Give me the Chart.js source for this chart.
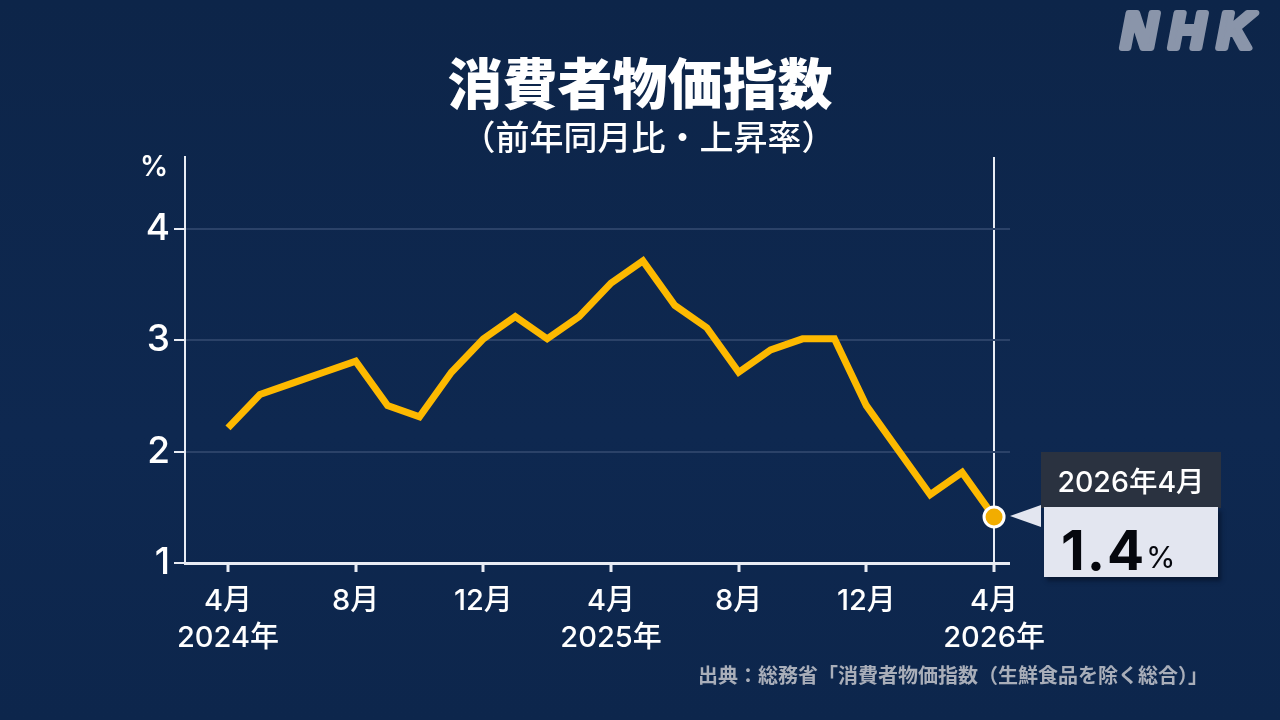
<!DOCTYPE html>
<html lang="ja"><head><meta charset="utf-8">
<script src="https://cdn.jsdelivr.net/npm/chart.js@4"></script>
<style>
html,body{margin:0;padding:0;width:1280px;height:720px;overflow:hidden;background:#0d264d;font-family:Inter,"Noto Sans CJK JP",sans-serif;color:#fff}
#bg{position:absolute;inset:0;background:linear-gradient(180deg,#0d2549 0%,#0e2850 60%,#0d264c 100%)}
canvas{position:absolute;left:0;top:0}
.t{position:absolute;white-space:nowrap;line-height:1}
#title{left:0;width:1280px;text-align:center;top:53px;font-family:"Noto Sans CJK JP";font-size:55px;font-weight:900}
#sub{left:0;width:1297px;text-align:center;top:119px;font-family:"Noto Sans CJK JP";font-size:34px;font-weight:500}
#unit{left:140px;top:149px;font:600 28px Inter,sans-serif}
#src{left:698px;top:665px;font-family:"Noto Sans CJK JP";font-size:20px;font-weight:700;color:#a9aeb9}
#logo{position:absolute;left:1100px;top:0;width:180px;height:70px;overflow:visible}
#boxTop{position:absolute;left:1041px;top:452px;width:180px;height:56px;background:#2a3240}
#boxVal{position:absolute;left:1044px;top:507px;width:174px;height:70px;background:#e3e6f0;box-shadow:3px 4px 4px rgba(5,15,35,.6)}
#arrow{position:absolute;left:1010px;top:505px;width:0;height:0;border-top:11.5px solid transparent;border-bottom:11.5px solid transparent;border-right:31px solid #e3e6f0}
#date{left:1041px;width:180px;text-align:center;top:468px;font-size:28.5px;font-weight:500}
#val{left:1061px;top:517px;font:700 55px Inter,sans-serif;color:#05070d;letter-spacing:2px}
#pct{left:1146px;top:539px;font:400 30px Inter,sans-serif;color:#05070d}
</style></head><body>
<div id="bg"></div>
<canvas id="c" width="1280" height="720"></canvas>
<div class="t" id="title"></div>
<div class="t" id="sub"></div>
<div class="t" id="unit">%</div>
<svg id="logo" viewBox="0 0 180 70"><text x="21" y="48" font-family="Liberation Sans" font-style="italic" font-weight="700" font-size="50" letter-spacing="12" fill="#8a95aa" stroke="#8a95aa" stroke-width="6" stroke-linejoin="round">NHK</text></svg>
<div id="arrow"></div><div id="boxTop"></div><div id="boxVal"></div>
<div class="t" id="date"></div>
<div class="t" id="val"></div>
<div class="t" id="pct">%</div>
<div class="t" id="src"></div>
<script>
const titleText = "消費者物価指数";
const subtitleText = "（前年同月比・上昇率）";
const sourceText = "出典：総務省「消費者物価指数（生鮮食品を除く総合）」";
const calloutDate = "2026年4月";
const calloutValue = "1.4";
const monthIndex = [0,1,2,3,4,5,6,7,8,9,10,11,12,13,14,15,16,17,18,19,20,21,22,23,24];
const cpiValues = [2.2,2.5,2.6,2.7,2.8,2.4,2.3,2.7,3.0,3.2,3.0,3.2,3.5,3.7,3.3,3.1,2.7,2.9,3.0,3.0,2.4,2.0,1.6,1.8,1.4];
const xTickIndex = [0,4,8,12,16,20,24];
const xTickMonths = ["4月","8月","12月","4月","8月","12月","4月"];
const xTickYears = ["2024年","","","2025年","","","2026年"];
const yTicks = [1,2,3,4];

document.getElementById('title').textContent = titleText;
document.getElementById('sub').textContent = subtitleText;
document.getElementById('src').textContent = sourceText;
document.getElementById('date').textContent = calloutDate;
document.getElementById('val').textContent = calloutValue;

const lastIdx = cpiValues.length - 1;
new Chart(document.getElementById('c'), {
  type: 'line',
  data: { datasets: [{
    data: monthIndex.map((m,i)=>({x:m,y:cpiValues[i]})),
    borderColor:'#fdb900', borderWidth:7, borderJoinStyle:'miter', borderCapStyle:'butt',
    tension:0,
    pointRadius: c=>c.dataIndex===lastIdx?10:0,
    pointBackgroundColor:'#f2ad00', pointBorderColor:'#ffffff', pointBorderWidth:3,
    clip:false
  }]},
  options:{
    responsive:false, animation:false, devicePixelRatio:1,
    plugins:{legend:{display:false},tooltip:{enabled:false}},
    scales:{
      x:{ type:'linear', min:-1.347, max:24.5,
        afterBuildTicks:s=>{s.ticks=xTickIndex.map(v=>({value:v}));},
        afterFit:s=>{s.height=720-563;},
        border:{color:'#e8ecf4',width:3},
        grid:{ drawOnChartArea:true, tickLength:9, lineWidth:c=>c.tick&&c.tick.value===24?2:0,
          color:'#e8ecf4', tickColor:'#e8ecf4', tickWidth:3 },
        ticks:{ autoSkip:false, maxRotation:0, color:'#fff', padding:11, font:{family:'Inter,"Noto Sans CJK JP"',size:29,weight:500,lineHeight:1.28},
          callback:v=>{const i=xTickIndex.indexOf(v);return i<0?'':[xTickMonths[i],xTickYears[i]];} }
      },
      y:{ min:1, max:4.647,
        afterBuildTicks:s=>{s.ticks=yTicks.map(v=>({value:v}));},
        afterFit:s=>{s.width=185;},
        border:{color:'#e8ecf4',width:2},
        grid:{ tickLength:11, lineWidth:2, color:c=>c.tick&&c.tick.value===1?'rgba(0,0,0,0)':'#2b4268', tickColor:'#e8ecf4', tickWidth:2 },
        ticks:{ color:'#fff', padding:4, font:{family:'Inter',size:37,weight:500} }
      }
    }
  },
  plugins:[
    {id:'pad',beforeLayout(ch){ch.options.layout.padding={top:157,right:270,left:0,bottom:0};}},
    {id:'lift',beforeDatasetsDraw(ch){ch.ctx.save();ch.ctx.translate(0,-1.5);},afterDatasetsDraw(ch){ch.ctx.restore();}}
  ]
});
</script>
</body></html>
